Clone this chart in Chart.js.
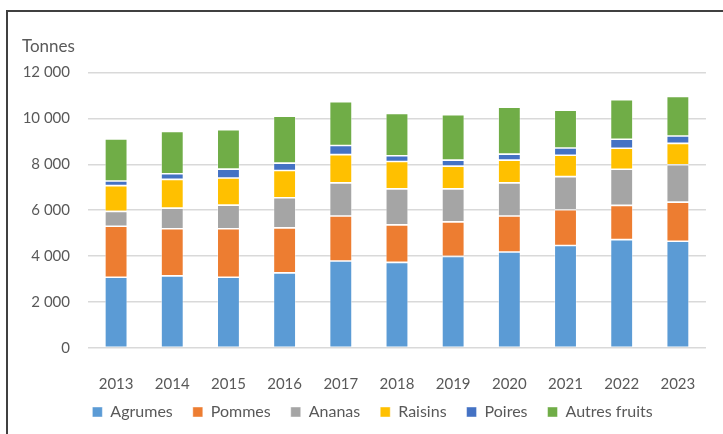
<!DOCTYPE html>
<html>
<head>
<meta charset="utf-8">
<script src="https://cdn.jsdelivr.net/npm/chart.js@4"></script>
<style>
  html, body { margin: 0; padding: 0; background: #fff; width: 723px; height: 434px; overflow: hidden; }
  #frame { position: absolute; left: 6px; top: 10px; width: 760px; height: 460px; border: 2px solid #404040; box-sizing: border-box; }
  #wrap { position: absolute; left: 0; top: 0; width: 723px; height: 434px; }
</style>
</head>
<body>
<div id="frame"></div>
<div id="wrap"><canvas id="c" width="723" height="434"></canvas></div>
<script>
const years = ['2013','2014','2015','2016','2017','2018','2019','2020','2021','2022','2023'];
const agrumes = [3080, 3140, 3080, 3270, 3790, 3730, 3990, 4180, 4460, 4720, 4650];
const pommes  = [2220, 2050, 2110, 1960, 1960, 1630, 1500, 1570, 1560, 1490, 1700];
const ananas  = [650, 900, 1030, 1310, 1440, 1570, 1440, 1440, 1440, 1570, 1630];
const raisins = [1120, 1250, 1180, 1190, 1230, 1190, 990, 990, 930, 920, 930];
const poires  = [200, 250, 390, 320, 400, 250, 260, 260, 320, 390, 320];
const autres  = [1830, 1840, 1720, 2040, 1900, 1840, 1980, 2040, 1640, 1720, 1720];
const yTicks = [0, 2000, 4000, 6000, 8000, 10000, 12000];

const FONT = "Lato, 'Liberation Sans', sans-serif";
const TXT = '#595959';

function ds(label, data, color) {
  return { label, data, backgroundColor: color, borderColor: 'rgba(255,255,255,0.55)', borderWidth: 0.8, borderSkipped: false,
           categoryPercentage: 1, barPercentage: 0.4 };
}

// nudge the legend block (Excel-like placement)
const legendNudge = {
  id: 'legendNudge',
  afterLayout(chart) {
    const lg = chart.legend;
    if (!lg) return;
    lg.top -= 9; lg.bottom -= 9;
    lg.left += 8; lg.right += 8;
  }
};

new Chart(document.getElementById('c'), {
  type: 'bar',
  plugins: [legendNudge],
  data: {
    labels: years,
    datasets: [
      ds('Agrumes', agrumes, '#5B9BD5'),
      ds('Pommes', pommes, '#ED7D31'),
      ds('Ananas', ananas, '#A5A5A5'),
      ds('Raisins', raisins, '#FFC000'),
      ds('Poires', poires, '#4472C4'),
      ds('Autres fruits', autres, '#70AD47')
    ]
  },
  options: {
    responsive: false,
    animation: false,
    devicePixelRatio: 1,
    layout: { padding: { left: 22, right: 16, top: 36, bottom: 1 } },
    plugins: {
      title: { display: true, text: 'Tonnes', align: 'start', color: TXT, font: { family: FONT, size: 17, weight: 'normal' }, padding: { top: 0, bottom: 16 } },
      legend: {
        position: 'bottom',
        maxHeight: 40,
        labels: { boxWidth: 10, boxHeight: 10, padding: 20, color: TXT, font: { family: FONT, size: 16 } }
      },
      tooltip: { enabled: false }
    },
    scales: {
      x: {
        stacked: true,
        grid: { display: false, drawTicks: false },
        border: { display: false },
        afterFit: (axis) => { axis.height = 45; },
        ticks: { color: TXT, font: { family: FONT, size: 15 }, padding: 27 }
      },
      y: {
        stacked: true,
        min: 0, max: 12000,
        afterBuildTicks: (axis) => { axis.ticks = yTicks.map(v => ({ value: v })); },
        afterFit: (axis) => { axis.width = 66; },
        grid: { color: '#D9D9D9', lineWidth: 1.5, drawTicks: false },
        border: { display: false },
        ticks: {
          color: TXT, font: { family: FONT, size: 15 }, padding: 18,
          callback: (v) => String(v).replace(/\B(?=(\d{3})+(?!\d))/g, ' ')
        }
      }
    }
  }
});
</script>
</body>
</html>
